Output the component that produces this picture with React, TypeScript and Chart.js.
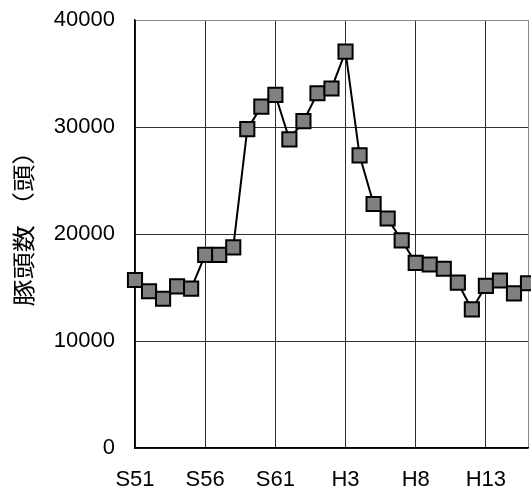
import React, { useEffect, useRef } from "react";
import { Chart, registerables } from "chart.js";

Chart.register(...registerables);

const categories = [
  "S51", "S52", "S53", "S54", "S55", "S56", "S57", "S58", "S59", "S60",
  "S61", "S62", "S63", "H1", "H2", "H3", "H4", "H5", "H6", "H7",
  "H8", "H9", "H10", "H11", "H12", "H13", "H14", "H15", "H16",
];

const pigCounts = [
  15700, 14650, 13950, 15100, 14900, 18050, 18050, 18750, 29800, 31900,
  33000, 28850, 30550, 33150, 33600, 37050, 27350, 22800, 21450, 19400,
  17300, 17150, 16750, 15450, 12950, 15150, 15650, 14450, 15400,
];

const yTicks = [0, 10000, 20000, 30000, 40000];
const yTitle = "豚頭数 （頭）";

// Draws the y-axis title stretched along its length, as in the reference.
const yTitlePlugin = {
  id: "yTitleStretched",
  afterDraw(chart: any) {
    const ctx = chart.ctx;
    const area = chart.chartArea;
    ctx.save();
    ctx.translate(23, (area.top + area.bottom) / 2 - 12);
    ctx.rotate(-Math.PI / 2);
    ctx.scale(1.18, 1);
    ctx.font = "23px 'Noto Sans CJK JP', sans-serif";
    ctx.fillStyle = "#000000";
    ctx.textAlign = "center";
    ctx.textBaseline = "middle";
    ctx.fillText(yTitle, 0, 0);
    ctx.restore();
  },
};

export default function App() {
  const ref = useRef<HTMLCanvasElement | null>(null);

  useEffect(() => {
    if (!ref.current) return;
    const font = { family: "'Liberation Sans', Arial, sans-serif", size: 22 };
    const chart = new Chart(ref.current, {
      type: "line",
      data: {
        labels: categories,
        datasets: [
          {
            data: pigCounts,
            borderColor: "#000000",
            borderWidth: 2,
            pointStyle: "rect",
            pointRadius: 10,
            pointBackgroundColor: "#808080",
            pointBorderColor: "#000000",
            pointBorderWidth: 2,
            tension: 0,
            clip: false,
          },
        ],
      },
      plugins: [yTitlePlugin],
      options: {
        responsive: false,
        animation: false,
        layout: { autoPadding: false, padding: { top: 20, right: 3, bottom: 0, left: 0 } },
        plugins: { legend: { display: false }, tooltip: { enabled: false } },
        scales: {
          x: {
            type: "category",
            offset: false,
            grid: {
              drawTicks: false,
              lineWidth: 1,
              color: (ctx: any) => {
                const i = ctx.index;
                if (i === categories.length - 1) return "#8a8a8a";
                if (i % 5 === 0) return "#303030";
                return "rgba(0,0,0,0)";
              },
            },
            border: { color: "#000000", width: 1.5 },
            ticks: {
              autoSkip: false,
              maxRotation: 0,
              minRotation: 0,
              padding: 19,
              color: "#000000",
              font,
              callback: (_v: any, i: number) => (i % 5 === 0 ? categories[i] : ""),
            },
            afterFit: (scale: any) => {
              scale.height = 49;
              scale.paddingLeft = 0;
              scale.paddingRight = 0;
              scale.paddingTop = 0;
              scale.paddingBottom = 0;
            },
          },
          y: {
            min: 0,
            max: 40000,
            afterBuildTicks: (scale: any) => {
              scale.ticks = yTicks.map((v) => ({ value: v }));
            },
            grid: {
              drawTicks: false,
              lineWidth: 1,
              color: (ctx: any) =>
                ctx.tick && ctx.tick.value === 40000 ? "#8a8a8a" : "#303030",
            },
            border: { color: "#000000", width: 1.5 },
            ticks: {
              padding: 20,
              color: "#000000",
              font,
              callback: (v: any) => String(v),
            },
            afterFit: (scale: any) => {
              scale.width = 135;
              scale.paddingLeft = 0;
              scale.paddingRight = 0;
              scale.paddingTop = 0;
              scale.paddingBottom = 0;
            },
          },
        },
      },
    });
    return () => chart.destroy();
  }, []);

  return (
    <div style={{ position: "fixed", left: 0, top: 0, width: 531, height: 497, background: "#ffffff" }}>
      <canvas ref={ref} width={531} height={497} style={{ display: "block" }} />
    </div>
  );
}
